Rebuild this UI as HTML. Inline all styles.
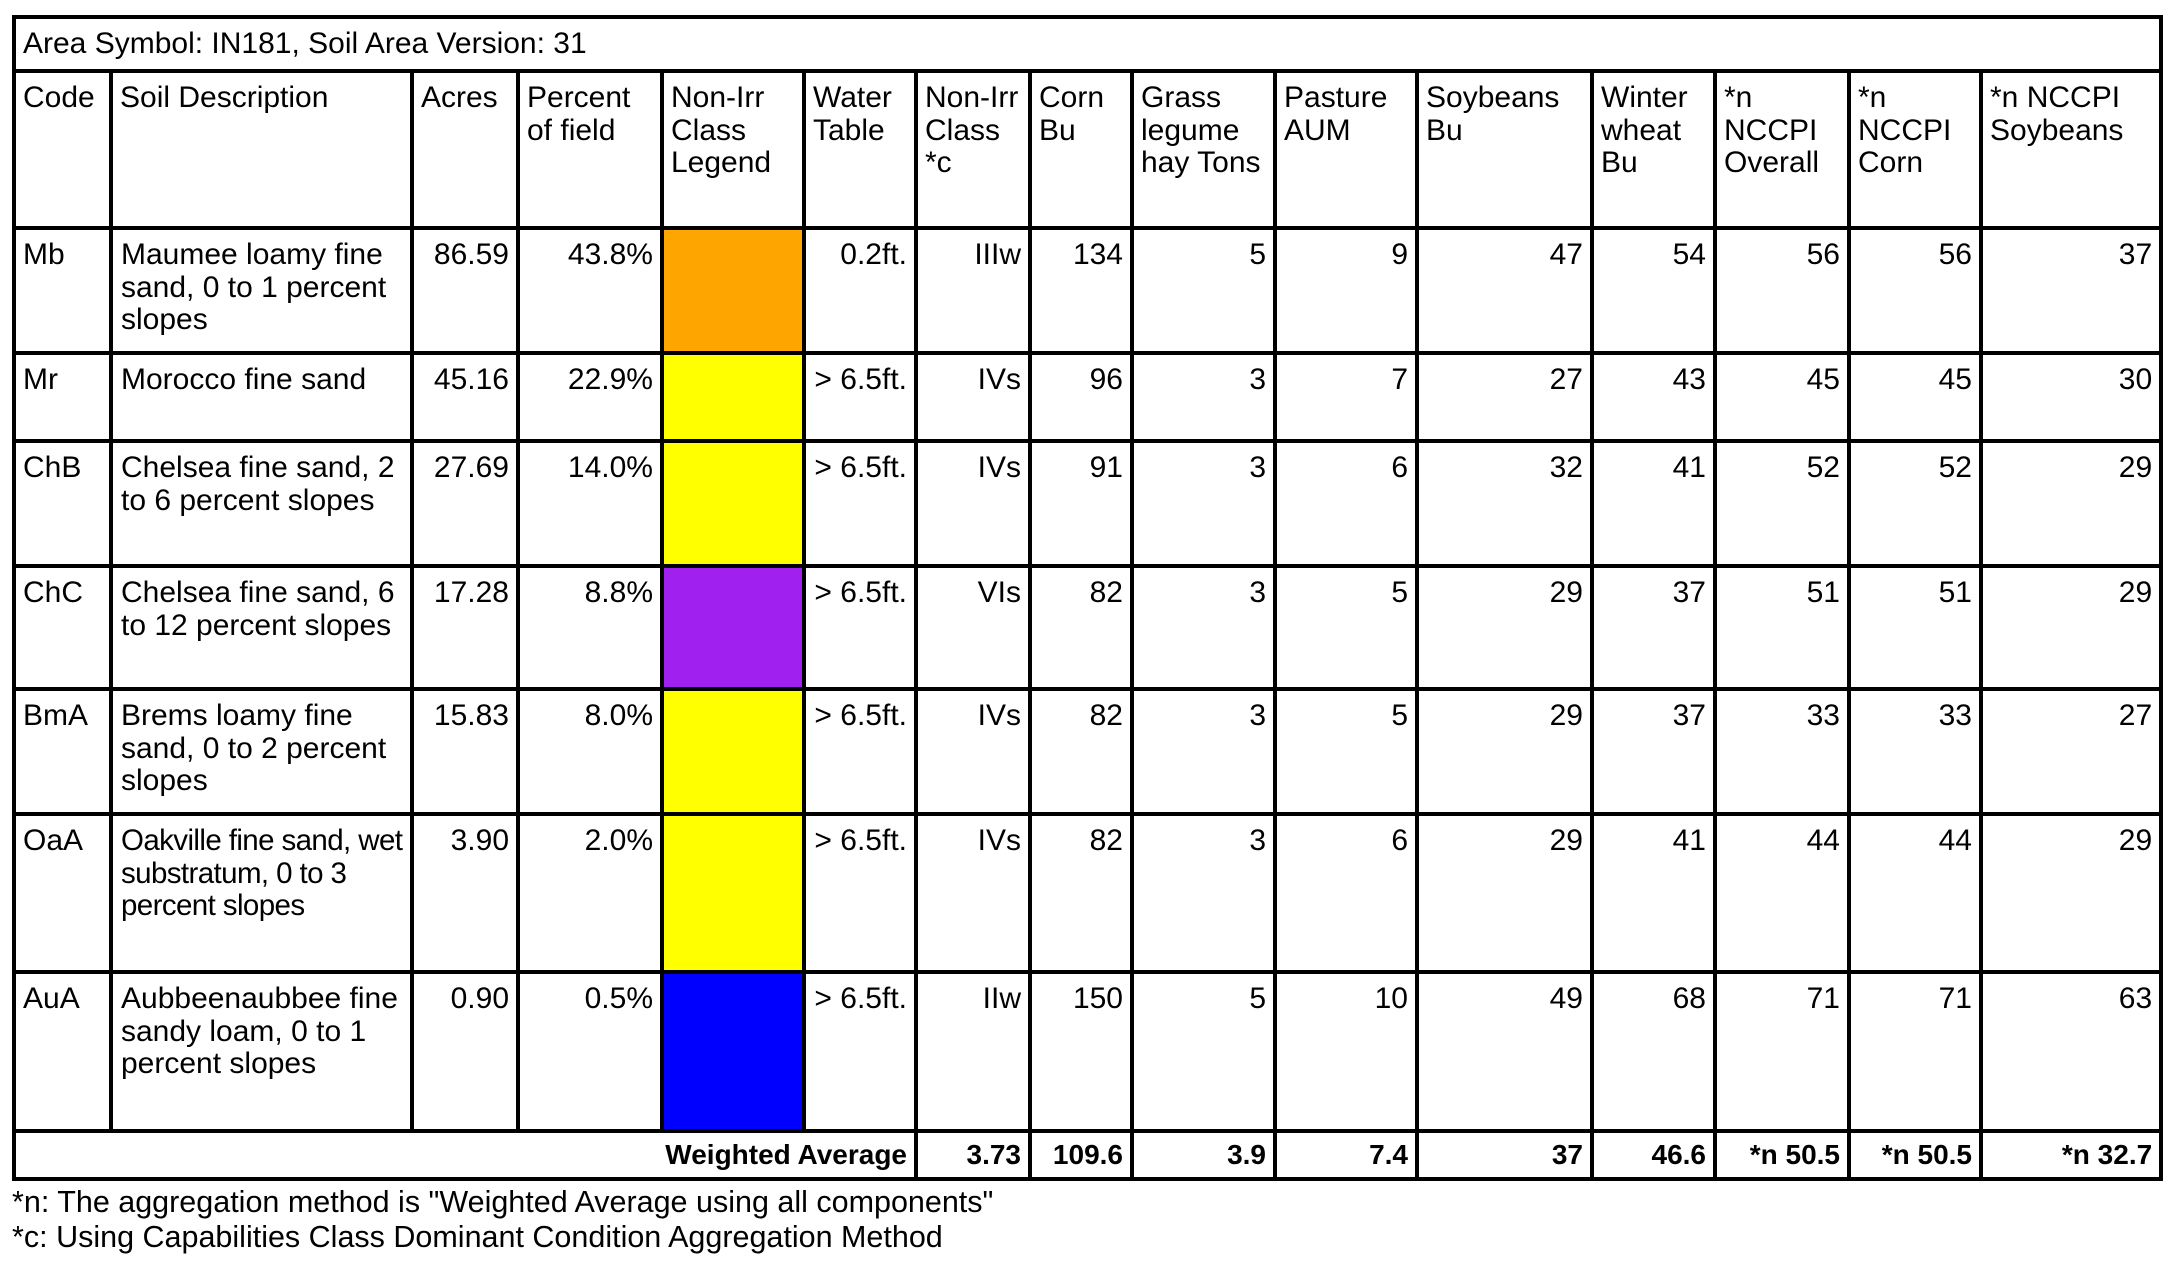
<!DOCTYPE html>
<html><head><meta charset="utf-8"><style>
html,body{margin:0;padding:0;background:#fff;width:2170px;height:1280px;overflow:hidden}
body{font-family:"Liberation Sans",Arial,sans-serif;font-size:30px;color:#000;position:relative}
table{position:absolute;left:12px;top:15px;border-collapse:collapse;table-layout:fixed;width:2149px}
td{border:4px solid #000;vertical-align:top;padding:9px 7px 0 7px;line-height:32.5px;overflow:hidden}
td.d{padding-right:0;padding-left:8px}
.r{text-align:right}
.b td{font-weight:bold;vertical-align:middle;padding-top:0;font-size:28px}
.fn{position:absolute;left:12px;font-size:30.5px;line-height:32px}
</style></head><body>
<table>
<colgroup>
<col style="width:97px"><col style="width:301px"><col style="width:106px"><col style="width:144px"><col style="width:142px"><col style="width:112px"><col style="width:114px"><col style="width:102px"><col style="width:143px"><col style="width:142px"><col style="width:175px"><col style="width:123px"><col style="width:134px"><col style="width:132px"><col style="width:180px">
</colgroup>
<tr style="height:54px"><td colspan="15" style="vertical-align:middle;padding-top:0">Area Symbol: IN181, Soil Area Version: 31</td></tr>
<tr style="height:157px"><td>Code</td><td>Soil Description</td><td>Acres</td><td>Percent of field</td><td>Non-Irr Class Legend</td><td>Water Table</td><td>Non-Irr Class *c</td><td>Corn Bu</td><td>Grass legume hay Tons</td><td>Pasture AUM</td><td>Soybeans Bu</td><td>Winter wheat Bu</td><td>*n NCCPI Overall</td><td>*n NCCPI Corn</td><td>*n NCCPI Soybeans</td></tr>
<tr style="height:125px"><td>Mb</td><td class="d">Maumee loamy fine sand, 0 to 1 percent slopes</td><td class="r">86.59</td><td class="r">43.8%</td><td style="background:#FFA500"></td><td class="r">0.2ft.</td><td class="r">IIIw</td><td class="r">134</td><td class="r">5</td><td class="r">9</td><td class="r">47</td><td class="r">54</td><td class="r">56</td><td class="r">56</td><td class="r">37</td></tr>
<tr style="height:88px"><td>Mr</td><td class="d">Morocco fine sand</td><td class="r">45.16</td><td class="r">22.9%</td><td style="background:#FFFF00"></td><td class="r">&gt; 6.5ft.</td><td class="r">IVs</td><td class="r">96</td><td class="r">3</td><td class="r">7</td><td class="r">27</td><td class="r">43</td><td class="r">45</td><td class="r">45</td><td class="r">30</td></tr>
<tr style="height:125px"><td>ChB</td><td class="d">Chelsea fine sand, 2<br>to 6 percent slopes</td><td class="r">27.69</td><td class="r">14.0%</td><td style="background:#FFFF00"></td><td class="r">&gt; 6.5ft.</td><td class="r">IVs</td><td class="r">91</td><td class="r">3</td><td class="r">6</td><td class="r">32</td><td class="r">41</td><td class="r">52</td><td class="r">52</td><td class="r">29</td></tr>
<tr style="height:123px"><td>ChC</td><td class="d">Chelsea fine sand, 6<br>to 12 percent slopes</td><td class="r">17.28</td><td class="r">8.8%</td><td style="background:#A020F0"></td><td class="r">&gt; 6.5ft.</td><td class="r">VIs</td><td class="r">82</td><td class="r">3</td><td class="r">5</td><td class="r">29</td><td class="r">37</td><td class="r">51</td><td class="r">51</td><td class="r">29</td></tr>
<tr style="height:125px"><td>BmA</td><td class="d">Brems loamy fine<br>sand, 0 to 2 percent<br>slopes</td><td class="r">15.83</td><td class="r">8.0%</td><td style="background:#FFFF00"></td><td class="r">&gt; 6.5ft.</td><td class="r">IVs</td><td class="r">82</td><td class="r">3</td><td class="r">5</td><td class="r">29</td><td class="r">37</td><td class="r">33</td><td class="r">33</td><td class="r">27</td></tr>
<tr style="height:158px"><td>OaA</td><td class="d" style="white-space:nowrap;letter-spacing:-0.6px;font-size:29.5px">Oakville fine sand, wet<br>substratum, 0 to 3<br>percent slopes</td><td class="r">3.90</td><td class="r">2.0%</td><td style="background:#FFFF00"></td><td class="r">&gt; 6.5ft.</td><td class="r">IVs</td><td class="r">82</td><td class="r">3</td><td class="r">6</td><td class="r">29</td><td class="r">41</td><td class="r">44</td><td class="r">44</td><td class="r">29</td></tr>
<tr style="height:159px"><td>AuA</td><td class="d">Aubbeenaubbee fine<br>sandy loam, 0 to 1<br>percent slopes</td><td class="r">0.90</td><td class="r">0.5%</td><td style="background:#0000FF"></td><td class="r">&gt; 6.5ft.</td><td class="r">IIw</td><td class="r">150</td><td class="r">5</td><td class="r">10</td><td class="r">49</td><td class="r">68</td><td class="r">71</td><td class="r">71</td><td class="r">63</td></tr>
<tr class="b" style="height:48px"><td colspan="6" class="r">Weighted Average</td><td class="r">3.73</td><td class="r">109.6</td><td class="r">3.9</td><td class="r">7.4</td><td class="r">37</td><td class="r">46.6</td><td class="r">*n 50.5</td><td class="r">*n 50.5</td><td class="r">*n 32.7</td></tr>
</table>
<div class="fn" style="top:1186px">*n: The aggregation method is "Weighted Average using all components"</div>
<div class="fn" style="top:1221px">*c: Using Capabilities Class Dominant Condition Aggregation Method</div>
</body></html>
